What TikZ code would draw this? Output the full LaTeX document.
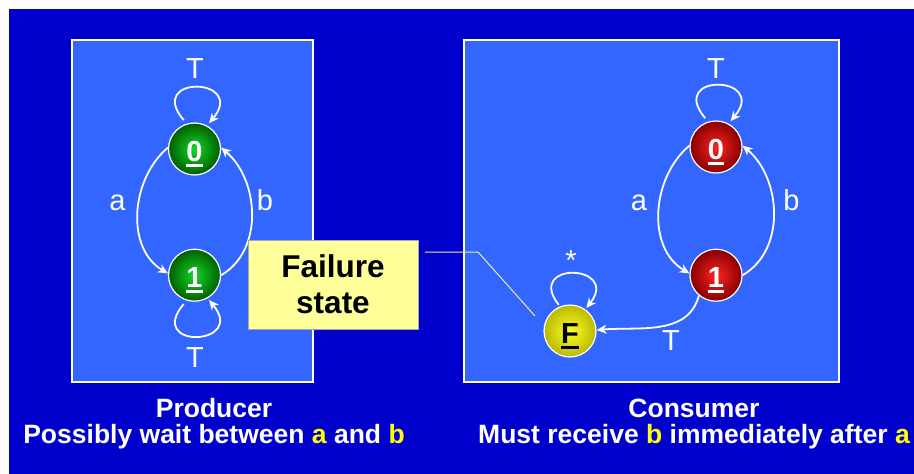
\documentclass[tikz,border=0pt]{standalone}
\usepackage{fontspec}
\setmainfont{Liberation Sans}
\usetikzlibrary{arrows.meta,positioning}

\definecolor{bgblue}{HTML}{0000CC}
\definecolor{panel}{HTML}{3366FF}
\definecolor{notebg}{HTML}{FFFF99}
\definecolor{hilite}{HTML}{FFFF00}

% state name with a heavy underline that adds no depth
\newcommand{\stname}[1]{\setbox0=\hbox{#1}\rlap{\rule[-5.5pt]{\wd0}{2.4pt}}\box0}

\tikzset{
  panelbox/.style={draw=white, fill=panel, line width=1.8pt},
  state/.style={
    circle, draw=white, line width=1.2pt, minimum size=52pt, inner sep=0pt,
    text height=24pt, text depth=0pt, text=white,
    font=\fontsize{29}{29}\selectfont\bfseries
  },
  good/.style={state, inner color={rgb,255:red,20;green,215;blue,40}, outer color={rgb,255:red,0;green,95;blue,0}},
  bad/.style={state, inner color={rgb,255:red,255;green,35;blue,35}, outer color={rgb,255:red,135;green,0;blue,0}},
  fail/.style={state, text=black, inner color={rgb,255:red,255;green,255;blue,40}, outer color={rgb,255:red,185;green,185;blue,0}},
  arr/.style={-{Stealth[length=10pt,width=9pt]}, line width=1.8pt, white},
  selfloop/.style={arr, out=130, in=50, distance=60pt},
  lbl/.style={font=\fontsize{29}{29}\selectfont, text=white, anchor=base, inner sep=0pt},
  caption/.style={font=\fontsize{26.5}{26.5}\selectfont\bfseries, text=white, anchor=base, inner sep=0pt},
  note/.style={
    draw=gray!70, fill=notebg, line width=0.8pt, inner sep=0pt,
    minimum width=170pt, minimum height=89pt, align=center,
    font=\fontsize{31.5}{36}\selectfont\bfseries
  },
  callout/.style={draw=notebg!85!gray, line width=1pt}
}

\begin{document}
\begin{tikzpicture}[x=1pt, y=-1pt]
  \useasboundingbox (0,0) rectangle (914,474);
  \fill[bgblue] (9,9) rectangle (914,474);

  % --- panels -----------------------------------------------------------
  \draw[panelbox] (72,40) rectangle (313,382);
  \draw[panelbox] (464,40) rectangle (839,382);

  % --- producer ---------------------------------------------------------
  \node[good] (p0) at (194.5,149) {\stname{0}};
  \node[good, below=73pt of p0] (p1) {\stname{1}};

  % loops sit a little off the circle
  \draw[selfloop] ([yshift=4.5pt]p0.114) to ([yshift=3.5pt]p0.57);
  \draw[selfloop, out=230, in=310] ([yshift=-4.5pt]p1.246) to ([yshift=-2.5pt]p1.303);
  \draw[arr] (p0.177) to[out=220, in=150] (p1.176);
  \draw[arr] (p1.0) to[out=30, in=-40] (p0.3);

  \node[lbl] (pt0) at (195,78) {T};
  \node[lbl] (pt1) at (195,367) {T};
  \node[lbl] (pa) at (117.5,210.5) {a};
  \node[lbl] (pb) at (265,210.5) {b};

  % --- consumer ---------------------------------------------------------
  \node[bad] (c0) at (716,147) {\stname{0}};
  \node[bad, below=75pt of c0] (c1) {\stname{1}};
  \node[fail] (cF) at (570,331) {\stname{F}};

  \draw[selfloop] ([yshift=4.5pt]c0.114) to ([yshift=3.5pt]c0.57);
  \draw[arr] (c0.177) to[out=220, in=150] (c1.176);
  \draw[arr] (c1.0) to[out=30, in=-40] (c0.3);
  \draw[arr] (c1.230) to[out=255, in=5] (cF.2);
  \draw[selfloop, out=128, in=52, distance=56pt] ([yshift=2pt]cF.115) to ([yshift=2pt]cF.52);

  \node[lbl] (ct0) at (716,78) {T};
  \node[lbl] (ca) at (639,210.5) {a};
  \node[lbl] (cb) at (791.5,210.5) {b};
  \node[lbl] (ctF) at (671,350) {T};
  \node[lbl] (cstar) at (571,270) {*};

  % --- failure note -----------------------------------------------------
  \node[note] (failnote) at (333,284.5) {Failure\\state};
  \coordinate (noteout) at (425,252);
  \coordinate (notekink) at (478,252);
  \coordinate (notetip) at (535,316);
  \draw[callout] (noteout) -- (notekink) -- (notetip);

  % --- captions ---------------------------------------------------------
  \node[caption] (prodname) at (214,417) {Producer};
  \node[caption] (prodnote) at (214,443) {Possibly wait between \textcolor{hilite}{a} and \textcolor{hilite}{b}};
  \node[caption] (consname) at (694,417) {Consumer};
  \node[caption] (consnote) at (694,443) {Must receive \textcolor{hilite}{b} immediately after \textcolor{hilite}{a}};
\end{tikzpicture}
\end{document}
